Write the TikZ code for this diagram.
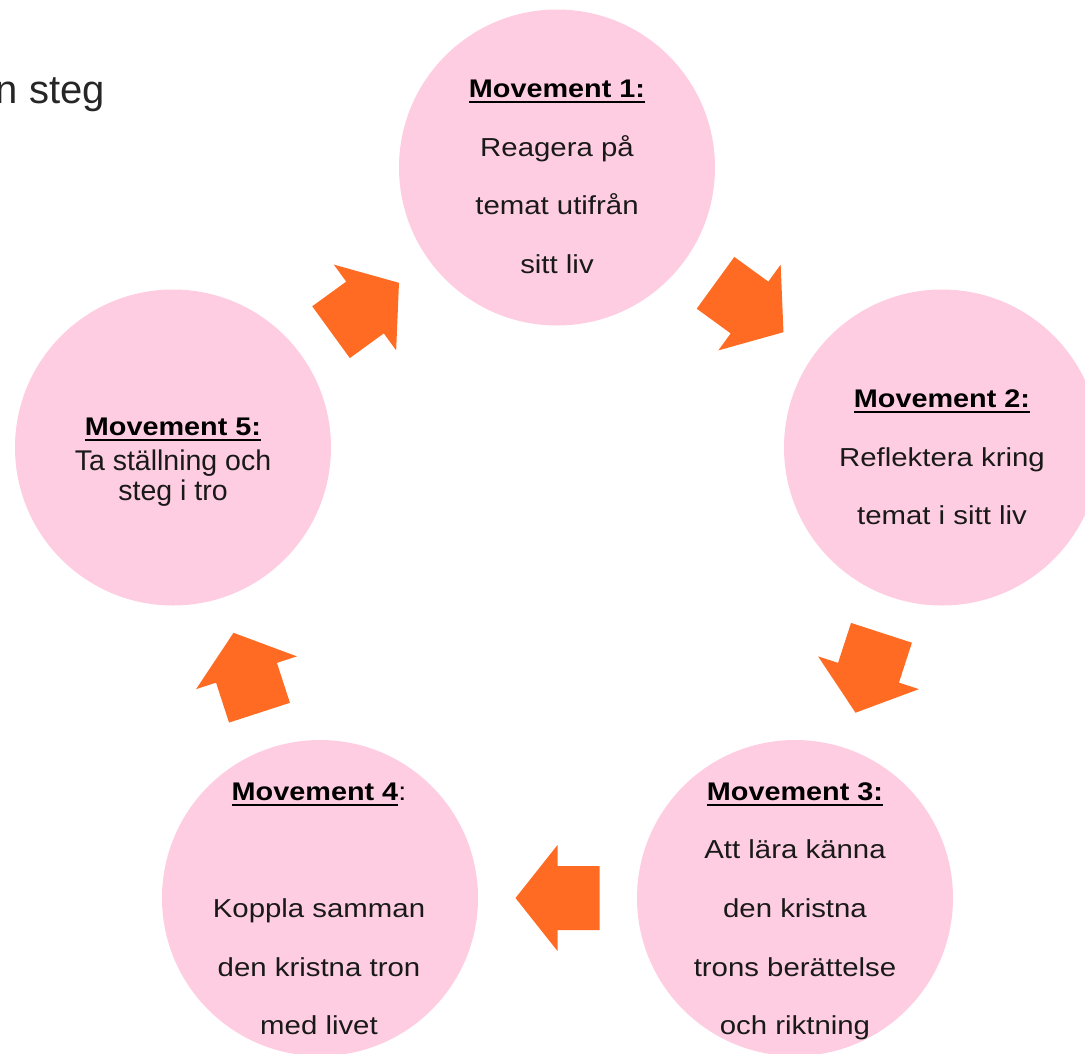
\documentclass[tikz,border=0pt]{standalone}
\usepackage{fontspec}
\setmainfont{Liberation Sans}
\newfontfamily\widesans[FakeStretch=1.13]{Liberation Sans}
\usetikzlibrary{calc}

\definecolor{stagepink}{RGB}{255,205,225}
\definecolor{floworange}{RGB}{255,107,34}

\newcommand{\headrule}[1]{\setbox0\hbox{#1}\rlap{\rule[-6pt]{\wd0}{2.5pt}}\box0}

\begin{document}
\begin{tikzpicture}[x=1pt,y=1pt,
  stage/.style={circle,fill=stagepink,minimum size=316pt,inner sep=0pt},
  head/.style={anchor=base,inner sep=0pt,text=black,font=\widesans\fontsize{25.5}{30}\selectfont\bfseries},
  body/.style={anchor=base,inner sep=0pt,text=black!90,font=\widesans\fontsize{26}{30}\selectfont},
  flow/.style={fill=floworange}]
  \def\rowgap{58.7}
  \clip (0,0) rectangle (1085,-1053);

  % the five movements
  \node[stage] (m1) at (557,-167.5) {};
  \node[stage] (m2) at (942,-447.5) {};
  \node[stage] (m3) at (795,-898) {};
  \node[stage] (m4) at (320,-898) {};
  \node[stage] (m5) at (173,-447.5) {};

  \foreach \from/\to/\ang in {m5/m1/36,m1/m2/-36,m2/m3/-108,m3/m4/180,m4/m5/108}
    \fill[flow,shift={($(\from)!0.5!(\to)$)},rotate=\ang]
      (-42,32) -- (0,32) -- (0,53) -- (42,0) -- (0,-53) -- (0,-32) -- (-42,-32) -- cycle;

  \node[anchor=base east,inner sep=0pt,text=black!85,font=\fontsize{40}{48}\selectfont] (title) at (105,-103) {n steg};

  \node[head] (h1) at (557,-97.3) {\headrule{Movement 1:}};
  \foreach \txt [count=\row from 1] in {Reagera på,temat utifrån,sitt liv}
    \node[body] (m1b\row) at (557,{-(97.3+\row*\rowgap)}) {\txt};

  \node[head] (h2) at (942,-407.3) {\headrule{Movement 2:}};
  \foreach \txt [count=\row from 1] in {Reflektera kring,temat i sitt liv}
    \node[body] (m2b\row) at (942,{-(407.3+\row*\rowgap)}) {\txt};

  \node[head] (h3) at (795,-800) {\headrule{Movement 3:}};
  \foreach \txt [count=\row from 1] in {Att lära känna,den kristna,trons berättelse,och riktning}
    \node[body] (m3b\row) at (795,{-(800+\row*\rowgap)}) {\txt};

  \node[head] (h4) at (319,-800) {\headrule{Movement 4}{\mdseries :}};
  \foreach \txt [count=\row from 2] in {Koppla samman,den kristna tron,med livet}
    \node[body] (m4b\row) at (319,{-(800+\row*\rowgap)}) {\txt};

  \node[head] (h5) at (173,-435) {\headrule{Movement 5:}};
  \foreach \txt [count=\row from 1] in {Ta ställning och,steg i tro}
    \node[anchor=base,inner sep=0pt,text=black!90,font=\fontsize{28.5}{33}\selectfont] (m5b\row) at (173,{-(440+\row*30)}) {\txt};
\end{tikzpicture}
\end{document}
